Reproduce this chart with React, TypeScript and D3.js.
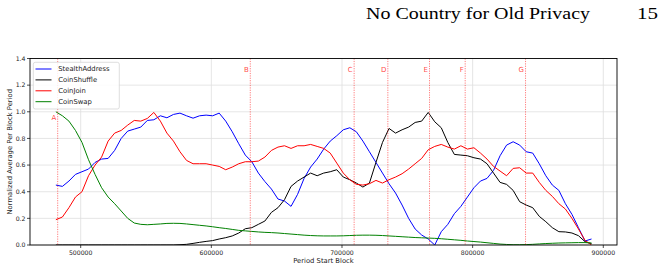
import * as d3 from "d3";

// block grid shared by every series (one point per 5000 blocks)
const blocks = d3.range(481000, 891001, 5000);

const stealthAddress = [
  0.45, 0.44, 0.48, 0.53, 0.55, 0.57, 0.62, 0.645, 0.65, 0.71,
  0.8, 0.855, 0.87, 0.885, 0.935, 0.94, 0.97, 0.955, 0.98, 0.99,
  0.97, 0.952, 0.97, 0.975, 0.97, 0.99, 0.93, 0.85, 0.76, 0.675,
  0.625, 0.54, 0.476, 0.42, 0.345, 0.33, 0.29, 0.38, 0.5, 0.585,
  0.645, 0.72, 0.78, 0.82, 0.865, 0.88, 0.85, 0.78, 0.7, 0.62,
  0.54, 0.46, 0.39, 0.3, 0.2, 0.12, 0.075, 0.045, 0.0, 0.1,
  0.155, 0.235, 0.29, 0.36, 0.43, 0.48, 0.5, 0.56, 0.67, 0.75,
  0.775, 0.75, 0.7, 0.69, 0.61, 0.52, 0.45, 0.41, 0.31, 0.23,
  0.13, 0.03, 0.045,
];

const coinShuffle = [
  0, 0, 0, 0, 0, 0, 0, 0, 0, 0,
  0, 0, 0, 0, 0, 0, 0, 0, 0, 0.002,
  0.005, 0.012, 0.02, 0.027, 0.033, 0.045, 0.055, 0.068, 0.09, 0.122,
  0.13, 0.155, 0.18, 0.245, 0.28, 0.34, 0.44, 0.48, 0.51, 0.54,
  0.52, 0.54, 0.55, 0.565, 0.51, 0.49, 0.465, 0.435, 0.465, 0.62,
  0.77, 0.875, 0.84, 0.865, 0.885, 0.92, 0.93, 0.995, 0.925, 0.88,
  0.77, 0.68, 0.675, 0.67, 0.655, 0.645, 0.61, 0.54, 0.47, 0.455,
  0.41, 0.325, 0.3, 0.28, 0.215, 0.175, 0.13, 0.1, 0.098, 0.09,
  0.07, 0.025, 0.01,
];

const coinJoin = [
  0.19, 0.21, 0.28, 0.36, 0.4, 0.52, 0.6, 0.66, 0.78, 0.84,
  0.86, 0.9, 0.935, 0.93, 0.95, 0.995, 0.93, 0.84, 0.78, 0.7,
  0.635, 0.61, 0.61, 0.61, 0.6, 0.59, 0.565, 0.585, 0.61, 0.625,
  0.625, 0.63, 0.66, 0.71, 0.735, 0.745, 0.725, 0.745, 0.745, 0.755,
  0.74, 0.725, 0.69, 0.615, 0.54, 0.49, 0.455, 0.45, 0.46, 0.485,
  0.465, 0.49, 0.51, 0.535, 0.57, 0.61, 0.65, 0.715, 0.74, 0.755,
  0.735, 0.72, 0.745, 0.72, 0.73, 0.69, 0.645, 0.59, 0.555, 0.52,
  0.575, 0.58, 0.54, 0.54, 0.47, 0.41, 0.365, 0.31, 0.27, 0.2,
  0.12, 0.035, 0.0,
];

const coinSwap = [
  1.0, 0.97, 0.93, 0.86, 0.77, 0.64, 0.53, 0.43, 0.36, 0.31,
  0.255, 0.2, 0.165, 0.155, 0.152, 0.155, 0.158, 0.162, 0.163, 0.162,
  0.158, 0.153, 0.148, 0.143, 0.137, 0.13, 0.124, 0.117, 0.11, 0.106,
  0.102, 0.098, 0.095, 0.093, 0.09, 0.086, 0.082, 0.078, 0.074, 0.071,
  0.069, 0.068, 0.068, 0.068, 0.069, 0.071, 0.073, 0.074, 0.074, 0.073,
  0.071, 0.068, 0.065, 0.062, 0.059, 0.056, 0.054, 0.052, 0.05, 0.047,
  0.043, 0.039, 0.035, 0.03, 0.026, 0.022, 0.017, 0.012, 0.007, 0.004,
  0.002, 0.002, 0.003, 0.005, 0.008, 0.011, 0.013, 0.015, 0.016, 0.017,
  0.018, 0.018, 0.015,
];

const seriesNames = ["StealthAddress", "CoinShuffle", "CoinJoin", "CoinSwap"];
const seriesColors = ["#0000ff", "#000000", "#ff0000", "#008000"];
const seriesValues = [stealthAddress, coinShuffle, coinJoin, coinSwap];

// marked events along the chain
const eventLabels = ["A", "B", "C", "D", "E", "F", "G"];
const eventBlocks = [482400, 629800, 709300, 735100, 767000, 794300, 840500];

const xTicks = [500000, 600000, 700000, 800000, 900000];
const yTicks = [0, 0.2, 0.4, 0.6, 0.8, 1.0, 1.2, 1.4];

const W = 663;
const H = 270;
const left = 30;
const right = 617;
const top = 58.5;
const bottom = 245;

const font = "'DejaVu Sans', sans-serif";

export default function App() {
  const x = d3.scaleLinear().domain([461200, 910500]).range([left, right]);
  const y = d3.scaleLinear().domain([0, 1.4]).range([bottom, top]);

  const line = d3
    .line<number>()
    .x((_, i) => x(blocks[i]))
    .y((d) => y(d));

  return (
    <svg
      width={W}
      height={H}
      viewBox={`0 0 ${W} ${H}`}
      style={{ position: "absolute", left: 0, top: 0, background: "#fff" }}
    >
      {/* running page header */}
      <text
        x={366}
        y={19}
        fontFamily="'Liberation Serif', serif"
        fontSize={16.5}
        textLength={224}
        lengthAdjust="spacingAndGlyphs"
        fill="#000"
      >
        No Country for Old Privacy
      </text>
      <text
        x={637}
        y={19}
        fontFamily="'Liberation Serif', serif"
        fontSize={16.5}
        textLength={21}
        lengthAdjust="spacingAndGlyphs"
        fill="#000"
      >
        15
      </text>

      <defs>
        <clipPath id="plot">
          <rect x={left} y={top} width={right - left} height={bottom - top} />
        </clipPath>
      </defs>

      {/* grid */}
      <g stroke="#dedede" strokeWidth={0.8}>
        {xTicks.map((t) => (
          <line key={t} x1={x(t)} x2={x(t)} y1={top} y2={bottom} />
        ))}
        {yTicks.map((t) => (
          <line key={t} x1={left} x2={right} y1={y(t)} y2={y(t)} />
        ))}
      </g>

      {/* series */}
      <g clipPath="url(#plot)" fill="none" strokeWidth={1} strokeLinejoin="round">
        {seriesValues.map((vals, k) => (
          <path key={seriesNames[k]} d={line(vals) ?? ""} stroke={seriesColors[k]} />
        ))}
      </g>

      {/* event markers */}
      <g>
        {eventBlocks.map((b, i) => (
          <g key={eventLabels[i]}>
            <line
              x1={x(b)}
              x2={x(b)}
              y1={top}
              y2={bottom}
              stroke="#ff0000"
              strokeOpacity={0.65}
              strokeWidth={0.8}
              strokeDasharray="1.2,1.2"
            />
            <text
              x={x(b) - 1.5}
              y={y(i === 0 ? 0.96 : 1.32)}
              dy="0.35em"
              textAnchor="end"
              fontFamily={font}
              fontSize={7}
              fill="#ff0000"
              fillOpacity={0.75}
            >
              {eventLabels[i]}
            </text>
          </g>
        ))}
      </g>

      {/* axes frame */}
      <rect
        x={left}
        y={top}
        width={right - left}
        height={bottom - top}
        fill="none"
        stroke="#000"
        strokeWidth={0.9}
      />

      {/* x axis ticks */}
      <g fontFamily={font} fontSize={6.2} fill="#222">
        {xTicks.map((t) => (
          <g key={t}>
            <line x1={x(t)} x2={x(t)} y1={bottom} y2={bottom + 3} stroke="#000" strokeWidth={0.7} />
            <text x={x(t)} y={bottom + 6} dy="0.71em" textAnchor="middle">
              {t}
            </text>
          </g>
        ))}
        {yTicks.map((t) => (
          <g key={t}>
            <line x1={left - 3} x2={left} y1={y(t)} y2={y(t)} stroke="#000" strokeWidth={0.7} />
            <text x={left - 4.5} y={y(t)} dy="0.35em" textAnchor="end">
              {t.toFixed(1)}
            </text>
          </g>
        ))}
      </g>

      <text
        x={(left + right) / 2}
        y={263}
        textAnchor="middle"
        fontFamily={font}
        fontSize={6.8}
        fill="#222"
      >
        Period Start Block
      </text>
      <text
        transform={`translate(9.5,${(top + bottom) / 2}) rotate(-90)`}
        textAnchor="middle"
        dy="0.35em"
        fontFamily={font}
        fontSize={6.8}
        fill="#222"
      >
        Normalized Average Per Block Period
      </text>

      {/* legend */}
      <g>
        <rect
          x={33.3}
          y={62.3}
          width={86}
          height={46.7}
          rx={2}
          fill="#fff"
          fillOpacity={0.85}
          stroke="#d0d0d0"
          strokeWidth={0.7}
        />
        {seriesNames.map((name, k) => {
          const cy = 69 + k * 10.9;
          return (
            <g key={name}>
              <line x1={35.5} x2={51.5} y1={cy} y2={cy} stroke={seriesColors[k]} strokeWidth={1} />
              <text x={58.3} y={cy} dy="0.35em" fontFamily={font} fontSize={6.8} fill="#222">
                {name}
              </text>
            </g>
          );
        })}
      </g>
    </svg>
  );
}
